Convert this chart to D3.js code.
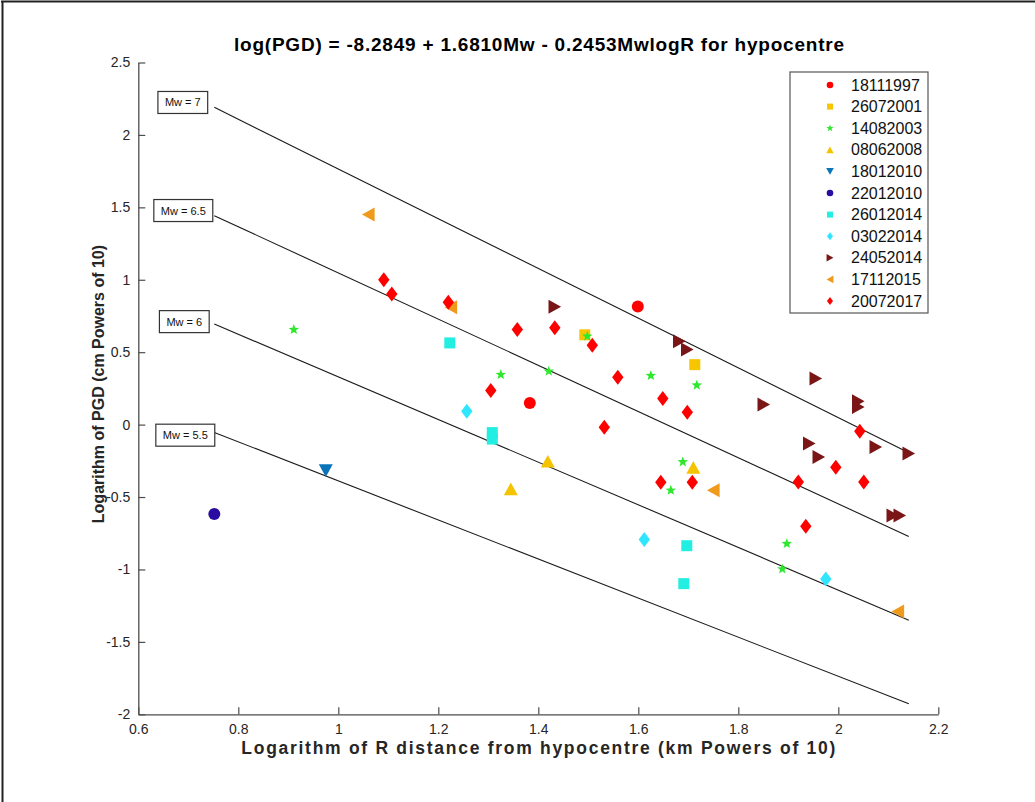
<!DOCTYPE html>
<html>
<head>
<meta charset="utf-8">
<script src="https://cdn.jsdelivr.net/npm/d3@7"></script>
<style>
  html, body { margin: 0; padding: 0; background: #fff; }
  svg { display: block; font-family: "Liberation Sans", Arial, Helvetica, sans-serif; }
</style>
</head>
<body>
<svg id="chart" width="1035" height="802"></svg>
<script>
// ---------------- DATA ----------------
const seriesNames = ["18111997","26072001","14082003","08062008","18012010","22012010","26012014","03022014","24052014","17112015","20072017"];

// [logR, logPGD]
const e18111997 = [[1.383,0.15],[1.599,0.815]];
const e26072001 = [[1.493,0.62],[1.713,0.414]];
const e14082003 = [[0.911,0.656],[1.325,0.345],[1.421,0.368],[1.498,0.61],[1.625,0.338],[1.717,0.272],[1.689,-0.258],[1.665,-0.454],[1.897,-0.822],[1.888,-0.997]];
const e08062008 = [[1.419,-0.253],[1.345,-0.444],[1.710,-0.295]];
const e18012010 = [[0.975,-0.318]];
const e22012010 = [[0.752,-0.617]];
const e26012014 = [[1.223,0.564],[1.308,-0.055],[1.308,-0.10],[1.697,-0.836],[1.691,-1.098]];
const e03022014 = [[1.257,0.092],[1.612,-0.794],[1.975,-1.066]];
const e24052014 = [[1.433,0.813],[1.682,0.575],[1.698,0.518],[1.955,0.318],[1.851,0.138],[2.04,0.161],[2.04,0.122],[1.942,-0.131],[1.961,-0.223],[2.075,-0.154],[2.141,-0.2],[2.109,-0.628],[2.123,-0.628]];
const e17112015 = [[1.06,1.45],[1.225,0.81],[1.75,-0.454],[2.119,-1.29]];
const e20072017 = [[1.091,1.0],[1.107,0.902],[1.22,0.845],[1.358,0.656],[1.433,0.668],[1.508,0.548],[1.559,0.327],[1.305,0.235],[1.532,-0.018],[1.649,0.18],[1.698,0.085],[2.043,-0.046],[1.995,-0.295],[1.92,-0.396],[2.051,-0.396],[1.645,-0.398],[1.708,-0.398],[1.935,-0.702]];
const seriesData = [e18111997,e26072001,e14082003,e08062008,e18012010,e22012010,e26012014,e03022014,e24052014,e17112015,e20072017];

// model: log(PGD) = a + b*Mw + c*Mw*logR
const coefA = -8.2849, coefB = 1.6810, coefC = -0.2453;
const magnitudes = [7, 6.5, 6, 5.5];
const magLabels = ["Mw = 7", "Mw = 6.5", "Mw = 6", "Mw = 5.5"];
const magLabelPos = [[0.689, 2.224], [0.690, 1.478], [0.692, 0.711], [0.694, -0.073]];

const xTicks = [0.6, 0.8, 1, 1.2, 1.4, 1.6, 1.8, 2, 2.2];
const yTicks = [-2, -1.5, -1, -0.5, 0, 0.5, 1, 1.5, 2, 2.5];

const titleText = "log(PGD) = -8.2849 + 1.6810Mw - 0.2453MwlogR for hypocentre";
const xLabel = "Logarithm of R distance from hypocentre (km Powers of 10)";
const yLabel = "Logarithm of PGD (cm Powers of 10)";

// ---------------- STYLE ----------------
const colors = ["#ff0000","#f7c600","#2ee82e","#f5c400","#0a74b8","#2a0ca0","#22eee2","#30e6ff","#7a1616","#f09a1c","#ff0000"];
const shapes = ["circle","square","star","triUp","triDown","circle","square","diamond","triRight","triLeft","diamond"];

// custom symbol types; size = half-extent in px
function symType(kind) {
  return { draw(ctx, r) {
    if (kind === "circle") { ctx.moveTo(r, 0); ctx.arc(0, 0, r, 0, 2 * Math.PI); }
    else if (kind === "square") { ctx.rect(-r, -r, 2 * r, 2 * r); }
    else if (kind === "diamond") { const w = r * 0.76; ctx.moveTo(0, -r); ctx.lineTo(w, 0); ctx.lineTo(0, r); ctx.lineTo(-w, 0); ctx.closePath(); }
    else if (kind === "triUp") { const h = r * 0.9; ctx.moveTo(0, -h); ctx.lineTo(r, h); ctx.lineTo(-r, h); ctx.closePath(); }
    else if (kind === "triDown") { const h = r * 0.9; ctx.moveTo(0, h); ctx.lineTo(r, -h); ctx.lineTo(-r, -h); ctx.closePath(); }
    else if (kind === "triRight") { const h = r * 0.9; ctx.moveTo(h, 0); ctx.lineTo(-h, r); ctx.lineTo(-h, -r); ctx.closePath(); }
    else if (kind === "triLeft") { const h = r * 0.9; ctx.moveTo(-h, 0); ctx.lineTo(h, r); ctx.lineTo(h, -r); ctx.closePath(); }
    else if (kind === "star") {
      for (let i = 0; i < 10; i++) {
        const rr = i % 2 === 0 ? r : r * 0.42;
        const a = -Math.PI / 2 + i * Math.PI / 5;
        if (i === 0) ctx.moveTo(rr * Math.cos(a), rr * Math.sin(a)); else ctx.lineTo(rr * Math.cos(a), rr * Math.sin(a));
      }
      ctx.closePath();
    }
  }};
}
const plotSize = { circle: 6, square: 5.5, star: 5.5, triUp: 7, triDown: 7, triRight: 7, triLeft: 7, diamond: 7.5 };
const legSize = { circle: 3.3, square: 3, star: 3.8, triUp: 3.8, triDown: 3.8, triRight: 3.8, triLeft: 3.8, diamond: 4 };

// ---------------- DRAW ----------------
const svg = d3.select("#chart");
const axisColor = "#4d4d4d";
const textColor = "#262626";

// figure frame (left/top visible)
svg.append("line").attr("x1", 2.5).attr("y1", 1).attr("x2", 2.5).attr("y2", 802).attr("stroke", "#222").attr("stroke-width", 2);
svg.append("line").attr("x1", 1).attr("y1", 1.5).attr("x2", 1035).attr("y2", 1.5).attr("stroke", "#222").attr("stroke-width", 2);

const x = d3.scaleLinear().domain([0.6, 2.2]).range([138.3, 938.3]);
const y = d3.scaleLinear().domain([-2, 2.5]).range([714.3, 62.5]);

const fmt = d => String(+d.toFixed(1));

const gx = svg.append("g").attr("transform", `translate(0,${y(-2)})`)
  .call(d3.axisBottom(x).tickValues(xTicks).tickFormat(fmt).tickSizeInner(-7).tickSizeOuter(0).tickPadding(10));
const gy = svg.append("g").attr("transform", `translate(${x(0.6)},0)`)
  .call(d3.axisLeft(y).tickValues(yTicks).tickFormat(fmt).tickSizeInner(-7).tickSizeOuter(0).tickPadding(8));
[gx, gy].forEach(g => {
  g.selectAll("path.domain").attr("stroke", axisColor).attr("stroke-width", 1.3);
  g.selectAll(".tick line").attr("stroke", axisColor).attr("stroke-width", 1.2);
  g.selectAll(".tick text").attr("fill", textColor).attr("font-size", 14).attr("font-family", "Liberation Sans, Arial, sans-serif");
});

// model lines
const allX = seriesData.flat().map(d => d[0]);
const [xmin, xmax] = d3.extent(allX);
const lineGen = d3.line().x(d => x(d[0])).y(d => y(d[1]));
magnitudes.forEach((mw, i) => {
  const f = r => coefA + coefB * mw + coefC * mw * r;
  svg.append("path").datum([[xmin, f(xmin)], [xmax, f(xmax)]])
    .attr("d", lineGen).attr("fill", "none").attr("stroke", "#1a1a1a").attr("stroke-width", 1.1);
});

// magnitude label boxes
magLabels.forEach((t, i) => {
  const g = svg.append("g");
  const txt = g.append("text").attr("x", x(magLabelPos[i][0])).attr("y", y(magLabelPos[i][1]))
    .attr("text-anchor", "middle").attr("dominant-baseline", "central")
    .attr("font-size", 11).attr("fill", "#111").text(t);
  const bb = txt.node().getBBox();
  g.insert("rect", "text").attr("x", bb.x - 7).attr("y", y(magLabelPos[i][1]) - 11)
    .attr("width", bb.width + 14).attr("height", 22)
    .attr("fill", "#fff").attr("stroke", "#333").attr("stroke-width", 1.2);
});

// points
seriesData.forEach((data, i) => {
  const sym = d3.symbol().type(symType(shapes[i])).size(plotSize[shapes[i]]);
  svg.append("g").selectAll("path").data(data).join("path")
    .attr("transform", d => `translate(${x(d[0])},${y(d[1])})`)
    .attr("d", sym()).attr("fill", colors[i]);
});

// title and axis labels
svg.append("text").attr("x", 539).attr("y", 51).attr("text-anchor", "middle")
  .attr("font-size", 19).attr("font-weight", "bold").attr("fill", "#000")
  .attr("textLength", 610).attr("lengthAdjust", "spacing").text(titleText);
svg.append("text").attr("x", x(1.4)).attr("y", 754).attr("text-anchor", "middle")
  .attr("font-size", 17.5).attr("font-weight", "bold").attr("fill", textColor)
  .attr("textLength", 594).attr("lengthAdjust", "spacing").text(xLabel);
svg.append("text").attr("transform", `translate(104,${y(0.28)}) rotate(-90)`).attr("text-anchor", "middle")
  .attr("font-size", 16).attr("font-weight", "bold").attr("fill", textColor).text(yLabel);

// legend
const legX = 790, legY = 72, legW = 138, legH = 241, rowH = 21.6;
svg.append("rect").attr("x", legX).attr("y", legY).attr("width", legW).attr("height", legH)
  .attr("fill", "#fff").attr("stroke", "#555").attr("stroke-width", 1.2);
seriesNames.forEach((name, i) => {
  const cy = legY + 13 + i * rowH;
  const sym = d3.symbol().type(symType(shapes[i])).size(legSize[shapes[i]]);
  svg.append("path").attr("transform", `translate(${legX + 40},${cy})`).attr("d", sym()).attr("fill", colors[i]);
  svg.append("text").attr("x", legX + 61).attr("y", cy).attr("dominant-baseline", "central")
    .attr("font-size", 16).attr("fill", "#111").text(name);
});
</script>
</body>
</html>
